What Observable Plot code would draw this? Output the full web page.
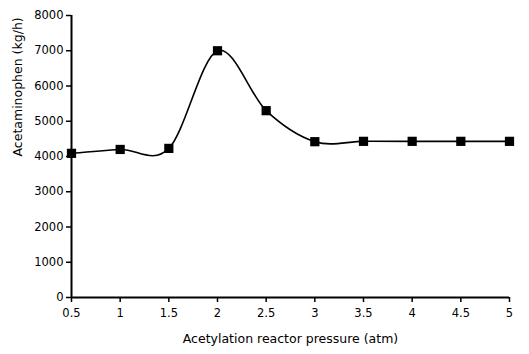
<!DOCTYPE html>
<html>
<head>
<meta charset="utf-8">
<script src="https://cdn.jsdelivr.net/npm/d3@7"></script>
<script src="https://cdn.jsdelivr.net/npm/@observablehq/plot@0.6"></script>
<style>
  html, body { margin: 0; padding: 0; background: #fff; }
  svg { display: block; }
</style>
</head>
<body>
<div id="chart"></div>
<script>
const pressure = [0.5, 1, 1.5, 2, 2.5, 3, 3.5, 4, 4.5, 5];
const acetaminophen = [4090, 4200, 4230, 7000, 5300, 4420, 4430, 4430, 4430, 4430];
const xTicks = [0.5, 1, 1.5, 2, 2.5, 3, 3.5, 4, 4.5, 5];
const yTicks = [0, 1000, 2000, 3000, 4000, 5000, 6000, 7000, 8000];

const data = pressure.map((p, i) => ({x: p, y: acetaminophen[i]}));

const chart = Plot.plot({
  width: 529,
  height: 354,
  marginLeft: 71,
  marginRight: 20,
  marginTop: 15,
  marginBottom: 57,
  style: {fontFamily: "'DejaVu Sans', Verdana, sans-serif", fontSize: "11.5px", color: "#000", background: "#fff"},
  x: {domain: [0.5, 5], ticks: xTicks, tickFormat: d => String(d), label: null},
  y: {domain: [0, 8000], ticks: yTicks, tickFormat: d => String(d), label: null},
  marks: [
    Plot.axisX({ticks: xTicks, tickFormat: d => String(d), tickSize: 5, tickPadding: 6, stroke: "#000", strokeWidth: 1.5, label: null}),
    Plot.axisY({ticks: yTicks, tickFormat: d => String(d), tickSize: 5, tickPadding: 3, stroke: "#000", strokeWidth: 1.5, label: null}),
    Plot.ruleY([0], {stroke: "#000", strokeWidth: 2}),
    Plot.ruleX([0.5], {stroke: "#000", strokeWidth: 2}),
    Plot.line(data, {x: "x", y: "y", curve: "cardinal", stroke: "#000", strokeWidth: 1.6}),
    Plot.dot(data, {x: "x", y: "y", symbol: "square", r: 5.2, fill: "#000", stroke: "none"}),
    Plot.text(["Acetylation reactor pressure (atm)"], {frameAnchor: "bottom", dy: 45, fontSize: 12.5, text: d => d}),
    Plot.text(["Acetaminophen (kg/h)"], {frameAnchor: "left", dx: -54, rotate: -90, fontSize: 12.5, text: d => d})
  ]
});
document.getElementById("chart").appendChild(chart);
</script>
</body>
</html>
